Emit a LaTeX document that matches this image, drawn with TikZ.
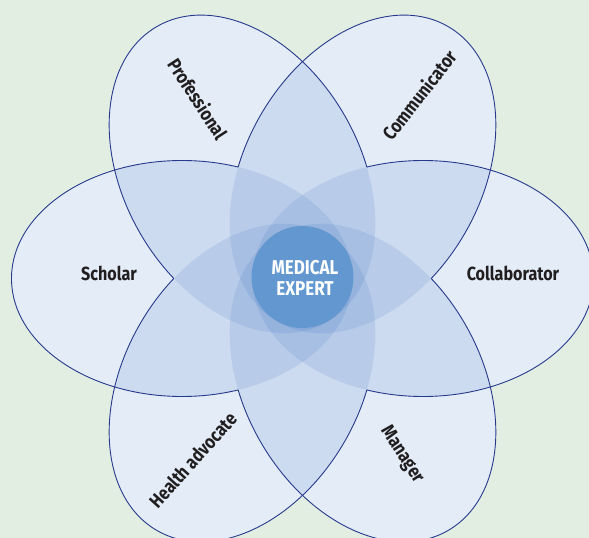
\documentclass[tikz,border=0pt]{standalone}
\usepackage{fontspec}
\setmainfont{Fira Sans}[FakeStretch=0.85]
\usetikzlibrary{positioning}

\begin{document}
\begin{tikzpicture}[x=1pt, y=1pt,
    lbl/.style={inner sep=0pt, text=labeltext, font=\fontsize{19}{21}\selectfont\bfseries},
    petalfill/.style={fill=petalblue, fill opacity=0.12},
    petalline/.style={draw=petaledge, line width=0.9pt}]

% Define colors
\definecolor{bggreen}{RGB}{227, 238, 227}
\definecolor{petalblue}{RGB}{40, 100, 190}
\definecolor{petaledge}{RGB}{38, 58, 140}
\definecolor{centerblue}{RGB}{98, 151, 207}
\definecolor{labeltext}{RGB}{33, 30, 31}

% Background
\fill[bggreen] (-302.5, -259.5) rectangle (286.5, 278.5);
\useasboundingbox (-302.5, -259.5) rectangle (286.5, 278.5);

% White base under the petals
\fill[white, rotate=0] (120.5, 0) ellipse [x radius=170.5, y radius=118];
\fill[white, rotate=60] (120.5, 0) ellipse [x radius=170.5, y radius=118];
\fill[white, rotate=120] (120.5, 0) ellipse [x radius=170.5, y radius=118];
\fill[white, rotate=180] (120.5, 0) ellipse [x radius=170.5, y radius=118];
\fill[white, rotate=240] (120.5, 0) ellipse [x radius=170.5, y radius=118];
\fill[white, rotate=300] (120.5, 0) ellipse [x radius=170.5, y radius=118];

% Transparent petals, overlaps get darker
\fill[petalfill, rotate=0] (120.5, 0) ellipse [x radius=170.5, y radius=118];
\fill[petalfill, rotate=60] (120.5, 0) ellipse [x radius=170.5, y radius=118];
\fill[petalfill, rotate=120] (120.5, 0) ellipse [x radius=170.5, y radius=118];
\fill[petalfill, rotate=180] (120.5, 0) ellipse [x radius=170.5, y radius=118];
\fill[petalfill, rotate=240] (120.5, 0) ellipse [x radius=170.5, y radius=118];
\fill[petalfill, rotate=300] (120.5, 0) ellipse [x radius=170.5, y radius=118];

% Outlines only outside the inner circle
\begin{scope}[even odd rule]
\clip (-310, -270) rectangle (300, 290) (0, 0) circle (128.65);
\draw[petalline, rotate=0] (120.5, 0) ellipse [x radius=170.5, y radius=118];
\draw[petalline, rotate=60] (120.5, 0) ellipse [x radius=170.5, y radius=118];
\draw[petalline, rotate=120] (120.5, 0) ellipse [x radius=170.5, y radius=118];
\draw[petalline, rotate=180] (120.5, 0) ellipse [x radius=170.5, y radius=118];
\draw[petalline, rotate=240] (120.5, 0) ellipse [x radius=170.5, y radius=118];
\draw[petalline, rotate=300] (120.5, 0) ellipse [x radius=170.5, y radius=118];
\end{scope}

% Centre disc
\fill[centerblue] (0, 1.5) circle (51);
\node[lbl, text=white, align=center, font=\fontsize{20}{21}\selectfont\bfseries] (expert) at (2.5, 0.5) {MEDICAL\\EXPERT};

% Petal labels
\node[lbl] (scholar) at (-193.5, 5) {Scholar};
\node[lbl] (collaborator) at (210.5, 4.7) {Collaborator};
\node[lbl, rotate=-57] (professional) at (-104.5, 179.8) {Professional};
\node[lbl, rotate=52] (communicator) at (116.5, 183.5) {Communicator};
\node[lbl, rotate=48] (advocate) at (-109.7, -181.5) {Health advocate};
\node[lbl, rotate=-57] (manager) at (99.2, -176.5) {Manager};

\end{tikzpicture}
\end{document}
